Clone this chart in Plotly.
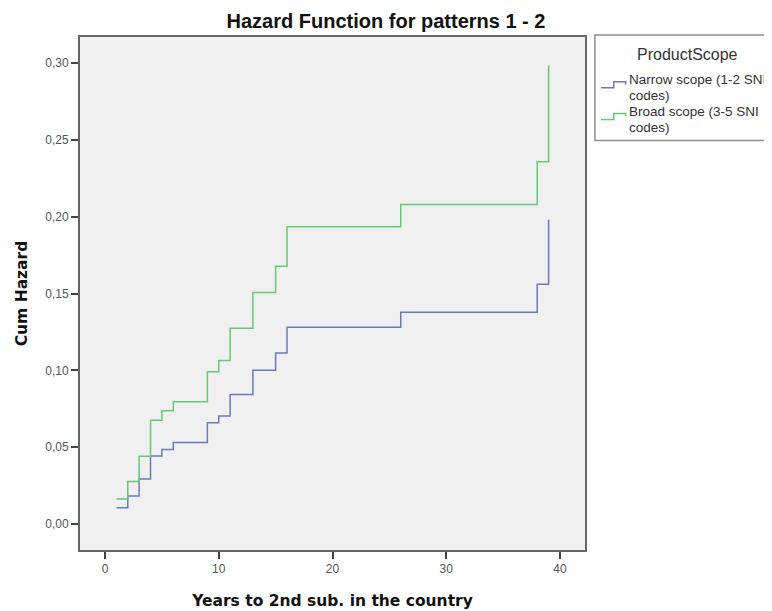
import plotly.graph_objects as go

years = [1, 2, 3, 4, 5, 6, 9, 10, 11, 13, 15, 16, 26, 38, 39]
narrow = [0.0105, 0.0181, 0.0293, 0.0442, 0.0485, 0.0530, 0.0658, 0.0703,
          0.0843, 0.1001, 0.1113, 0.1281, 0.1378, 0.1561, 0.1980]
broad = [0.0162, 0.0276, 0.0440, 0.0675, 0.0736, 0.0796, 0.0990, 0.1063,
         0.1274, 0.1507, 0.1678, 0.1934, 0.2079, 0.2357, 0.2984]
series_names = ["Narrow scope (1-2 SNI<br>codes)", "Broad scope (3-5 SNI<br>codes)"]
legend_title = "ProductScope"
x_ticks = [0, 10, 20, 30, 40]
y_ticks = [0.0, 0.05, 0.10, 0.15, 0.20, 0.25, 0.30]

colors = ["#6f78bb", "#66c878"]

fig = go.Figure()
for vals, name, col in zip([narrow, broad], series_names, colors):
    fig.add_trace(go.Scatter(x=years, y=vals, mode="lines", line_shape="hv",
                             line=dict(color=col, width=1.5), name=name,
                             showlegend=False))

axis_common = dict(showline=True, linecolor="#666666", linewidth=1.8, mirror=True,
                   ticks="outside", ticklen=7, tickcolor="#444", tickwidth=1.5,
                   showgrid=False, zeroline=False,
                   tickfont=dict(family="Arial, Liberation Sans", size=12, color="#555"))

title_font = dict(family="DejaVu Sans", size=15.5, color="#111")

# plot area position (page pixels) used to place the hand-drawn legend
PL, PR, PT, PB = 76.0, 585.0, 37.0, 553.0
def px(x):
    return (x - PL) / (PR - PL)
def py(y):
    return (PB - y) / (PB - PT)

shapes = [dict(type="rect", xref="paper", yref="paper",
               x0=px(595), x1=px(800), y0=py(141), y1=py(35),
               line=dict(color="#8f8f8f", width=1.5), fillcolor="white", layer="above")]
annotations = [dict(text=legend_title, xref="paper", yref="paper", x=px(688), y=py(55),
                    xanchor="center", yanchor="middle", showarrow=False,
                    font=dict(family="Arial, Liberation Sans", size=16, color="#333"))]
item_top = [80, 112]
line_gap = 16
for i, (name, col) in enumerate(zip(series_names, colors)):
    y0 = item_top[i]
    lo, hi = y0 + 8, y0 + 2
    path = (f"M {px(601)},{py(lo)} L {px(614)},{py(lo)} L {px(614)},{py(hi)} "
            f"L {px(626)},{py(hi)} L {px(626)},{py(hi + 3)}")
    shapes.append(dict(type="path", xref="paper", yref="paper", path=path,
                       line=dict(color=col, width=1.5), layer="above"))
    for j, line in enumerate(name.split("<br>")):
        annotations.append(dict(text=line, xref="paper", yref="paper",
                                x=px(628), y=py(y0 + line_gap * j),
                                xanchor="left", yanchor="middle", showarrow=False,
                                borderpad=0,
                                font=dict(family="Arial, Liberation Sans", size=13.5,
                                          color="#333")))

fig.update_layout(
    width=772, height=611,
    margin=dict(l=68, r=195, t=29, b=66),
    paper_bgcolor="white", plot_bgcolor="#f0f0f0",
    separators=",.",
    showlegend=False,
    font=dict(family="Arial, Liberation Sans", color="#333"),
    title=dict(text="<b>Hazard Function for patterns 1 - 2</b>",
               x=378 / 772, xref="container", xanchor="center",
               y=1 - 13 / 611, yref="container", yanchor="middle",
               font=dict(family="Arial, Liberation Sans", size=20, color="#111")),
    xaxis=dict(range=[-2.2, 42.2], tickvals=x_ticks,
               title=dict(text="<b>Years to 2nd sub. in the country</b>", standoff=20,
                          font=title_font),
               **axis_common),
    yaxis=dict(range=[-0.017, 0.317], tickvals=y_ticks, tickformat=".2f",
               title=dict(text="<b>Cum Hazard</b>", standoff=14, font=title_font),
               **axis_common),
    shapes=shapes,
    annotations=annotations,
)

fig.write_html("out.html")
